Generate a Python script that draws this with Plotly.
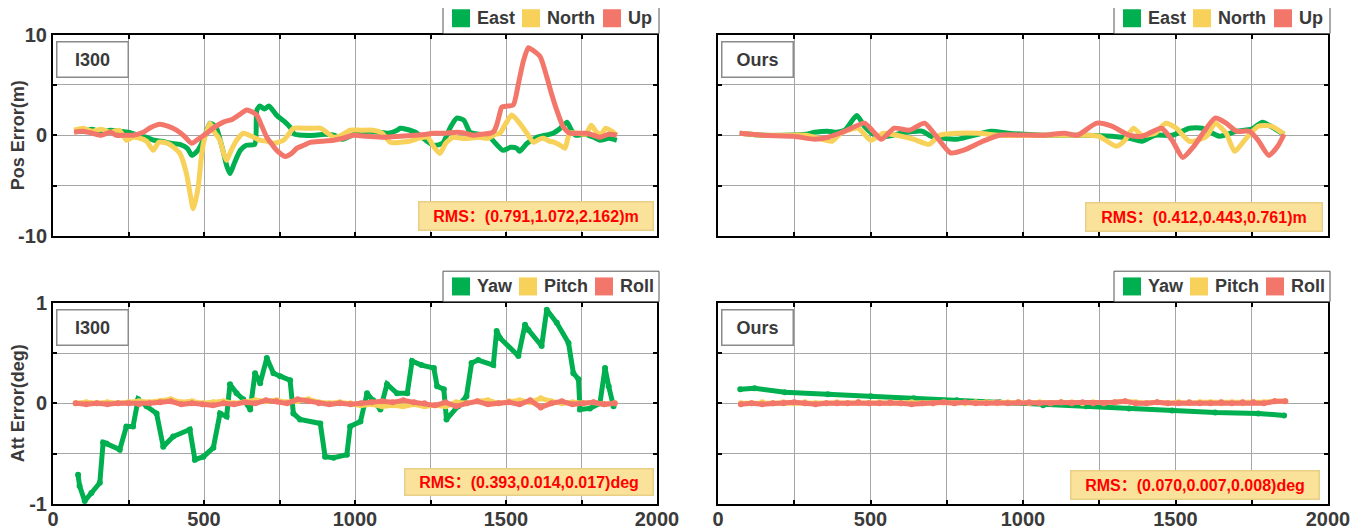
import plotly.graph_objects as go

# The page body adds an 8px margin, so the figure is drawn 8px in from the top-left corner.
PAGE_W, PAGE_H = 1369, 531
OFF = 8
W, H = PAGE_W - OFF, PAGE_H - OFF

# ---------------- data ----------------
# Position error, I300
pos_i300_east_t = [70, 100, 130, 160, 190, 220, 250, 280, 310, 335, 360, 390, 420, 445, 460, 480, 500, 520, 540,
                   560, 575, 586, 600, 620, 640, 668, 675, 685, 700, 715, 740, 765, 785, 800, 830, 870, 900, 930,
                   960, 990, 1020, 1050, 1080, 1110, 1140, 1150, 1170, 1200, 1230, 1262, 1290, 1316, 1337, 1360,
                   1381, 1410, 1440, 1465, 1490, 1515, 1536, 1545, 1570, 1603, 1630, 1656, 1680, 1702, 1715, 1730,
                   1760, 1790, 1811, 1840, 1867]
pos_i300_east = [0.5, 0.4, 0.6, 0.3, 0.5, 0.4, 0.3, 0.0, -0.2, -0.5, -0.6, -0.8, -0.9, -1.3, -2.0, -1.5, -0.3, 1.2,
                 0.8, -1.2, -3.0, -3.8, -2.8, -1.5, -1.0, -0.9, 2.5, 2.9, 2.6, 2.9, 2.0, 1.4, 0.8, 0.1, 0.0, 0.0,
                 0.1, 0.0, -0.4, 0.0, 0.3, 0.4, 0.3, 0.2, 0.5, 0.7, 0.6, 0.3, -0.4, -1.0, -0.8, 0.8, 1.7, 1.5, 0.3,
                 0.1, 0.0, -0.8, -1.5, -1.2, -1.3, -1.6, -0.8, -0.2, 0.0, 0.2, 0.7, 1.3, 0.6, 0.0, 0.1, -0.2, -0.5,
                 -0.3, -0.5]
pos_i300_north_t = [70, 100, 130, 160, 190, 220, 243, 265, 288, 310, 332, 350, 380, 400, 420, 442, 455, 464, 472,
                    481, 490, 498, 510, 520, 535, 553, 565, 575, 590, 608, 630, 650, 664, 686, 710, 730, 763, 785,
                    796, 830, 860, 885, 910, 929, 955, 984, 1020, 1060, 1090, 1117, 1150, 1180, 1210, 1240, 1262,
                    1281, 1300, 1325, 1350, 1380, 1410, 1440, 1465, 1480, 1500, 1519, 1545, 1569, 1591, 1610, 1624,
                    1645, 1660, 1680, 1695, 1711, 1740, 1765, 1782, 1800, 1815, 1830, 1850, 1867]
pos_i300_north = [0.5, 0.7, 0.4, 0.6, 0.3, 0.5, -0.5, -0.2, -0.3, -0.6, -1.5, -0.7, -0.8, -1.2, -1.8, -3.8, -6.0,
                  -7.3, -6.5, -5.1, -2.5, -0.8, 0.5, 1.2, 0.3, -0.5, -1.8, -2.5, -1.5, -0.5, 0.2, 0.0, -0.2, -0.5,
                  -0.6, -0.8, -0.5, 0.3, 0.7, 0.7, 0.7, 0.7, 0.2, -0.2, 0.0, 0.5, 0.5, 0.5, 0.2, -0.7, -0.7, -0.6,
                  -0.3, -0.2, -1.2, -1.8, -0.8, -0.2, -0.3, -0.3, -0.2, -0.3, 0.1, 0.2, 1.2, 2.0, 1.2, 0.2, -0.7,
                  -0.4, -0.3, -0.6, -0.7, -1.0, -1.3, 0.2, 0.2, 0.1, 1.0, 0.3, 0.1, 0.7, 0.4, 0.0]
pos_i300_up_t = [70, 100, 130, 160, 190, 210, 240, 265, 299, 325, 354, 380, 409, 435, 459, 485, 509, 535, 564, 595,
                 620, 641, 660, 675, 690, 708, 725, 741, 769, 790, 807, 830, 852, 890, 929, 960, 995, 1040, 1095,
                 1150, 1200, 1237, 1261, 1300, 1337, 1365, 1392, 1420, 1447, 1460, 1469, 1478, 1486, 1505, 1524,
                 1541, 1557, 1574, 1590, 1613, 1635, 1650, 1668, 1690, 1711, 1740, 1767, 1790, 1811, 1840, 1867]
pos_i300_up = [0.3, 0.4, 0.2, 0.0, 0.3, 0.0, 0.0, 0.0, 0.3, 0.8, 1.1, 0.9, 0.5, -0.1, -0.8, -0.3, 0.2, 0.8, 1.3,
               1.6, 2.1, 2.5, 2.3, 2.0, 1.0, -0.2, -0.9, -1.5, -2.1, -1.8, -1.3, -1.0, -0.7, -0.6, -0.5, -0.3, 0.0,
               -0.1, -0.2, -0.1, 0.0, 0.1, 0.2, 0.2, 0.3, 0.2, 0.0, 0.1, 0.2, 0.4, 1.0, 2.0, 2.8, 2.9, 3.0, 5.1,
               7.3, 8.7, 8.4, 7.8, 5.8, 4.2, 2.5, 0.8, 0.2, 0.2, 0.2, 0.0, -0.2, 0.1, 0.0]

# Position error, Ours
pos_ours_east_t = [71, 148, 219, 289, 318, 360, 388, 416, 455, 480, 515, 557, 600, 670, 699, 783, 826, 896, 953,
                   1066, 1207, 1291, 1348, 1390, 1433, 1489, 1546, 1588, 1644, 1700, 1750, 1785, 1828, 1856]
pos_ours_east = [0.2, 0.0, 0.0, 0.1, 0.3, 0.4, 0.3, 0.5, 1.95, 0.9, 0.0, -0.1, 0.2, 0.4, -0.1, -0.4, -0.1, 0.4, 0.2,
                 0.0, 0.0, -0.1, -0.3, -0.6, 0.0, 0.0, 0.7, 0.7, -0.1, 0.4, 0.6, 1.3, 0.6, 0.1]
pos_ours_north_t = [71, 148, 219, 289, 318, 374, 402, 459, 501, 543, 586, 642, 692, 727, 783, 854, 924, 1066, 1207,
                    1249, 1306, 1334, 1362, 1390, 1433, 1468, 1503, 1546, 1602, 1630, 1666, 1694, 1729, 1771, 1814,
                    1856]
pos_ours_north = [0.2, 0.0, 0.0, 0.0, -0.2, -0.6, 0.2, 0.7, -0.5, 0.2, 0.0, -0.4, -0.9, 0.0, 0.2, 0.2, 0.0, 0.0,
                  0.0, -0.1, -1.1, -0.5, 0.7, 0.0, 0.2, 1.2, 0.7, -0.6, -0.1, 1.2, 0.2, -1.6, -0.4, 0.9, 0.9, 0.1]
pos_ours_up_t = [71, 148, 247, 318, 360, 416, 480, 508, 536, 578, 628, 677, 713, 762, 812, 868, 924, 1066, 1136,
                 1178, 1242, 1291, 1348, 1390, 1454, 1489, 1524, 1560, 1630, 1666, 1700, 1743, 1771, 1806, 1835, 1856]
pos_ours_up = [0.2, 0.0, -0.1, -0.4, -0.2, 0.4, 1.2, 0.4, -0.4, 0.7, 0.5, 1.2, 0.0, -1.75, -1.4, -0.6, 0.0, 0.0,
               0.2, 0.0, 1.2, 0.9, 0.0, -0.1, 0.7, -0.5, -2.2, -1.1, 1.7, 1.2, 0.4, 0.4, -0.5, -2.0, -1.1, 0.1]

# Attitude error, I300
att_i300_yaw_t = [83, 88, 105, 127, 155, 166, 177, 221, 243, 265, 282, 310, 343, 365, 398, 453, 470, 498, 531, 553,
                  575, 586, 608, 630, 653, 669, 686, 708, 730, 752, 785, 796, 818, 885, 901, 929, 973, 984, 1018,
                  1040, 1060, 1084, 1106, 1139, 1173, 1189, 1220, 1261, 1272, 1294, 1303, 1342, 1369, 1386, 1408,
                  1458, 1469, 1480, 1541, 1563, 1574, 1618, 1635, 1668, 1707, 1723, 1740, 1745, 1778, 1811, 1828,
                  1840, 1856]
att_i300_yaw = [-0.71, -0.82, -0.97, -0.89, -0.79, -0.39, -0.40, -0.46, -0.23, -0.23, 0.04, -0.03, -0.10, -0.43,
                -0.33, -0.26, -0.56, -0.53, -0.44, -0.10, -0.13, 0.19, 0.10, 0.04, -0.06, 0.30, 0.20, 0.45, 0.30,
                0.27, 0.23, -0.10, -0.16, -0.20, -0.53, -0.54, -0.51, -0.23, -0.18, 0.10, 0.03, -0.06, 0.19, 0.10,
                0.10, 0.42, 0.38, 0.35, 0.17, 0.14, -0.16, -0.03, 0.07, 0.40, 0.43, 0.38, 0.72, 0.65, 0.47, 0.78,
                0.73, 0.57, 0.93, 0.80, 0.60, 0.30, 0.24, -0.06, -0.05, 0.00, 0.35, 0.17, -0.03]
att_t = [75, 110, 145, 180, 215, 250, 285, 320, 355, 390, 425, 460, 495, 530, 565, 600, 635, 670, 705, 740, 775,
         810, 845, 880, 915, 950, 985, 1020, 1055, 1090, 1125, 1160, 1195, 1230, 1265, 1300, 1335, 1370, 1405, 1440,
         1475, 1510, 1545, 1580, 1615, 1650, 1685, 1720, 1755, 1790, 1825, 1860]
att_i300_pitch = [0.00, 0.01, 0.00, 0.01, 0.00, 0.01, 0.02, 0.01, 0.02, 0.04, 0.01, 0.02, 0.00, 0.01, 0.02, 0.00,
                  0.01, 0.03, 0.02, 0.03, 0.01, 0.02, 0.04, 0.01, 0.00, 0.01, 0.00, -0.02, -0.01, -0.03, -0.02,
                  -0.03, -0.01, -0.03, -0.02, -0.03, 0.01, 0.00, 0.02, 0.03, 0.00, 0.02, 0.03, 0.01, 0.05, 0.02,
                  0.00, 0.01, 0.00, 0.01, -0.01, 0.00]
att_i300_roll = [0.00, -0.01, 0.00, -0.01, 0.00, 0.00, -0.01, 0.00, 0.01, 0.02, -0.01, 0.00, -0.01, -0.02, 0.00,
                 -0.01, 0.01, 0.00, 0.03, 0.02, 0.00, 0.04, 0.02, 0.00, -0.01, 0.00, -0.01, 0.00, 0.01, 0.02, 0.01,
                 0.03, 0.01, 0.00, -0.02, 0.01, -0.03, 0.00, 0.02, -0.01, 0.00, 0.01, -0.01, 0.03, -0.04, 0.00, 0.02,
                 -0.01, 0.00, 0.01, -0.01, 0.00]

# Attitude error, Ours
att_ours_yaw_t = [73, 120, 219, 360, 501, 642, 783, 924, 1066, 1207, 1348, 1489, 1630, 1771, 1856]
att_ours_yaw = [0.14, 0.15, 0.11, 0.09, 0.07, 0.05, 0.03, 0.01, -0.02, -0.03, -0.05, -0.07, -0.09, -0.10, -0.12]
att_ours_pitch = [0.00, 0.00, 0.01, 0.00, 0.01, 0.00, 0.01, 0.00, 0.00, 0.01, 0.00, 0.01, 0.00, 0.01, 0.00, 0.00,
                  0.01, 0.00, 0.00, 0.01, 0.00, 0.00, 0.01, 0.01, 0.00, 0.01, 0.01, 0.00, 0.01, 0.00, 0.01, 0.01,
                  0.00, 0.01, 0.00, 0.01, 0.02, 0.01, 0.00, 0.01, 0.00, 0.01, 0.00, 0.01, 0.01, 0.00, 0.01, 0.00,
                  0.01, 0.01, 0.02, 0.02]
att_ours_roll = [-0.01, 0.00, -0.01, 0.00, 0.00, 0.01, 0.00, -0.01, 0.00, 0.00, 0.00, 0.01, 0.00, 0.00, 0.01, 0.00,
                 -0.01, 0.00, 0.00, 0.01, 0.00, 0.01, 0.00, 0.00, 0.01, 0.00, 0.01, 0.01, 0.00, 0.00, 0.01, 0.00,
                 0.01, 0.00, 0.00, 0.01, 0.02, 0.00, 0.00, 0.01, 0.00, 0.00, 0.01, 0.00, 0.00, 0.01, 0.00, 0.01,
                 0.01, 0.00, 0.02, 0.02]

pos_names = ["East", "North", "Up"]
att_names = ["Yaw", "Pitch", "Roll"]
panel_labels = ["I300", "Ours", "I300", "Ours"]
rms_texts = ["RMS：(0.791,1.072,2.162)m", "RMS：(0.412,0.443,0.761)m",
             "RMS：(0.393,0.014,0.017)deg", "RMS：(0.070,0.007,0.008)deg"]
x_ticks = [0, 250, 500, 750, 1000, 1250, 1500, 1750, 2000]
x_ticktext = ["0", "", "500", "", "1000", "", "1500", "", "2000"]
pos_ticks = [-10, -5, 0, 5, 10]
pos_ticktext = ["-10", "", "0", "", "10"]
att_ticks = [-1, -0.5, 0, 0.5, 1]
att_ticktext = ["-1", "", "0", "", "1"]

COLORS = ["#00B050", "#F7D159", "#F3766A"]
FONT = "Liberation Sans, Arial, Noto Sans CJK SC, sans-serif"
TXT = "#3a3a3a"

# ---------------- geometry (page pixels) ----------------
def px_x(p):
    return (p - OFF) / W

def px_y(p):
    return 1 - (p - OFF) / H

col_px = [(53, 657), (718, 1328)]
row_px = [(34.5, 236), (302.7, 504)]
# legend swatch offsets from the panel's right edge, per row
legend_swatch_off = [[-205, -135, -54], [-205, -138, -62]]

fig = go.Figure()

panels = [
    (0, 0, [pos_i300_east_t, pos_i300_north_t, pos_i300_up_t], [pos_i300_east, pos_i300_north, pos_i300_up], pos_names),
    (0, 1, [pos_ours_east_t, pos_ours_north_t, pos_ours_up_t], [pos_ours_east, pos_ours_north, pos_ours_up], pos_names),
    (1, 0, [att_i300_yaw_t, att_t, att_t], [att_i300_yaw, att_i300_pitch, att_i300_roll], att_names),
    (1, 1, [att_ours_yaw_t, att_t, att_t], [att_ours_yaw, att_ours_pitch, att_ours_roll], att_names),
]

layout = {}
annotations = []
shapes = []
for k, (r, c, ts, vs, names) in enumerate(panels):
    idx = k + 1
    xa = "x" if idx == 1 else f"x{idx}"
    ya = "y" if idx == 1 else f"y{idx}"
    for j in range(3):
        if r == 0:
            fig.add_trace(go.Scatter(x=ts[j], y=vs[j], mode="lines", xaxis=xa, yaxis=ya, name=names[j],
                                     line=dict(color=COLORS[j], width=5, shape="spline", smoothing=0.6),
                                     showlegend=False, hoverinfo="skip"))
        else:
            fig.add_trace(go.Scatter(x=ts[j], y=vs[j], mode="lines+markers", xaxis=xa, yaxis=ya, name=names[j],
                                     line=dict(color=COLORS[j], width=5),
                                     marker=dict(color=COLORS[j], size=6),
                                     showlegend=False, hoverinfo="skip"))
    x0, x1 = col_px[c]
    y0, y1 = row_px[r]
    axkey = "xaxis" if idx == 1 else f"xaxis{idx}"
    aykey = "yaxis" if idx == 1 else f"yaxis{idx}"
    layout[axkey] = dict(domain=[px_x(x0), px_x(x1)], anchor=ya, range=[0, 2000],
                         tickvals=x_ticks, ticktext=x_ticktext, showticklabels=(r == 1),
                         ticks="inside", ticklen=4, tickwidth=1.5, tickcolor="black",
                         ticklabelstandoff=-4,
                         showline=True, linewidth=2, linecolor="black", mirror="allticks",
                         showgrid=True, gridcolor="#a6a6a6", gridwidth=1, zeroline=False,
                         tickfont=dict(family=FONT, size=20, color=TXT, weight="bold"))
    layout[aykey] = dict(domain=[px_y(y1), px_y(y0)], anchor=xa,
                         range=[-10, 10] if r == 0 else [-1, 1],
                         tickvals=pos_ticks if r == 0 else att_ticks,
                         ticktext=pos_ticktext if r == 0 else att_ticktext,
                         showticklabels=(c == 0),
                         ticks="inside", ticklen=4, tickwidth=1.5, tickcolor="black",
                         showline=True, linewidth=2, linecolor="black", mirror="allticks",
                         showgrid=True, gridcolor="#a6a6a6", gridwidth=1, zeroline=False,
                         tickfont=dict(family=FONT, size=20, color=TXT, weight="bold"))
    if c == 0:
        layout[aykey]["title"] = dict(text="Pos Error(m)" if r == 0 else "Att Error(deg)",
                                      font=dict(family=FONT, size=18, color=TXT, weight="bold"),
                                      standoff=4)
    # legend (drawn as a boxed row of square swatches + labels)
    ly0, ly1 = y0 - 31.5, y0 - 1
    lcy = (ly0 + ly1) / 2
    shapes.append(dict(type="rect", xref="paper", yref="paper", x0=px_x(x1 - 214), x1=px_x(x1 + 2),
                       y0=px_y(ly1), y1=px_y(ly0), line=dict(color="#555555", width=1), fillcolor="white"))
    for j in range(3):
        sx = x1 + legend_swatch_off[r][j]
        shapes.append(dict(type="rect", xref="paper", yref="paper", x0=px_x(sx), x1=px_x(sx + 18),
                           y0=px_y(lcy + 9), y1=px_y(lcy - 9), line=dict(width=0), fillcolor=COLORS[j]))
        annotations.append(dict(xref="paper", yref="paper", x=px_x(sx + 23), y=px_y(lcy), text=names[j],
                                showarrow=False, xanchor="left", yanchor="middle",
                                font=dict(family=FONT, size=18, color=TXT, weight="bold")))
    # panel label box
    annotations.append(dict(xref="paper", yref="paper", x=px_x(x0 + 39), y=px_y(y0 + 24.5),
                            text=panel_labels[k], showarrow=False, width=68, height=32,
                            bgcolor="white", bordercolor="#8a8a8a", borderwidth=1.5,
                            font=dict(family=FONT, size=18, color=TXT, weight="bold"),
                            xanchor="center", yanchor="middle"))

# RMS boxes (pixel centre, width, height)
rms_boxes = [(535.5, 215.5, 235, 29), (1203.5, 216.5, 237, 29), (528.5, 481.5, 249, 27), (1194.5, 484.5, 249, 29)]
for k, (cx, cy, bw, bh) in enumerate(rms_boxes):
    annotations.append(dict(xref="paper", yref="paper", x=px_x(cx), y=px_y(cy), text=rms_texts[k],
                            showarrow=False, width=bw - 4, height=bh - 4, bgcolor="#FBE29B",
                            bordercolor="#E9CF86", borderwidth=1.5,
                            font=dict(family=FONT, size=16, color="#FF0000", weight="bold"),
                            xanchor="center", yanchor="middle"))

fig.update_layout(width=W, height=H, margin=dict(l=0, r=0, t=0, b=0, autoexpand=False),
                  paper_bgcolor="white", plot_bgcolor="white", showlegend=False,
                  annotations=annotations, shapes=shapes, **layout)

fig.write_html("out.html")
